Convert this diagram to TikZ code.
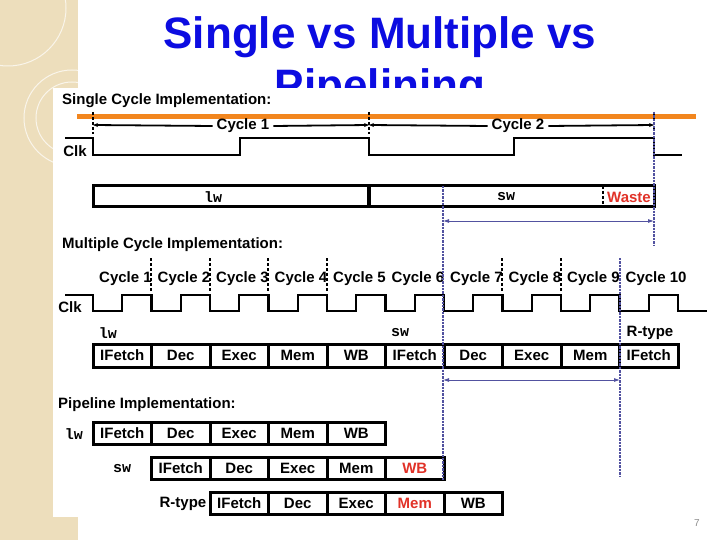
\documentclass[tikz,border=0pt]{standalone}
\usepackage{fontspec}
\setmainfont{Liberation Sans}
\newfontfamily\codefont{Liberation Mono}
\usetikzlibrary{arrows.meta,positioning,calc}
\definecolor{titleblue}{RGB}{12,12,225}
\definecolor{strip}{RGB}{237,222,188}
\definecolor{barorange}{RGB}{242,134,30}
\definecolor{guideblue}{RGB}{82,82,160}
\definecolor{wastered}{RGB}{225,50,40}
\tikzset{
  ttl/.style={anchor=base,font=\fontsize{44}{48}\selectfont\bfseries,text=titleblue},
  sect/.style={anchor=west,inner sep=0pt,font=\fontsize{15}{17}\selectfont\bfseries},
  lbl/.style={inner sep=0pt,font=\fontsize{15}{17}\selectfont\bfseries},
  cyc/.style={anchor=west,inner sep=0pt,font=\fontsize{15}{17}\selectfont\bfseries},
  code/.style={inner sep=0pt,font=\fontsize{15}{17}\selectfont\codefont\bfseries},
  cell/.style={draw,line width=3pt,minimum width=58.5pt,minimum height=22pt,inner sep=0pt,font=\fontsize{15}{17}\selectfont\bfseries},
  clk/.style={line width=2.4pt},
  tickmark/.style={densely dashed,line width=1.8pt},
  cycarr/.style={-{Stealth[length=5pt,width=4pt]},line width=1.8pt},
  guide/.style={guideblue,densely dotted,line width=2.4pt},
  span/.style={guideblue,{Latex[length=6pt,width=4pt]}-{Latex[length=6pt,width=4pt]},line width=0.8pt},
}
\begin{document}
\begin{tikzpicture}[x=1pt,y=-1pt]
\useasboundingbox (0,0) rectangle (720,540);
\fill[white] (0,0) rectangle (720,540);
\fill[strip] (0,0) rectangle (78,540);
\begin{scope}
\clip (0,0) rectangle (78,540);
\draw[white,line width=1pt,opacity=0.7] (8,8) circle (58);
\draw[white,line width=1pt,opacity=0.7] (72,118) circle (48);
\draw[white,line width=1pt,opacity=0.7] (72,118) circle (36);
\end{scope}
\node[ttl] (ttl1) at (380,49) {Single vs Multiple vs};
\node[ttl] (ttl2) at (380,101) {Pipelining};
\fill[white] (53,88) rectangle (720,517);

% single cycle
\node[sect] (single) at (62,101) {Single Cycle Implementation:};
\draw[barorange,line width=5pt] (77,117) -- (696,117);
\foreach \x in {93,369,654} \draw[tickmark] (\x,112) -- (\x,134);
\coordinate (s0) at (93,125);
\coordinate (s1) at (369,125);
\coordinate (s2) at (654,125);
\node[lbl,fill=white,inner xsep=4pt] (cy1) at (243,126) {Cycle 1};
\node[lbl,fill=white,inner xsep=4pt] (cy2) at (518,126) {Cycle 2};
\draw[cycarr] (cy1.west) -- (s0);
\draw[cycarr] (cy1.east) -- (s1);
\draw[cycarr] (cy2.west) -- (s1);
\draw[cycarr] (cy2.east) -- (s2);
\node[lbl] (clk1) at (75,151) {Clk};
\draw[clk] (65,138) -| (93,155) -| (240,138) -| (369,155) -| (514,138) -| (654,155) -- (682,155);
\draw[line width=3pt] (93,186) rectangle (654,207);
\draw[line width=3.5pt] (369,186) -- (369,207);
\draw[tickmark,line width=2.6pt] (603,186) -- (603,207);
\node[code] (lw1) at (213,197) {lw};
\node[code] (sw1) at (506,197) {sw};
\node[lbl,text=wastered] (waste) at (629,197) {Waste};

% multiple cycle
\node[sect] (multi) at (62,245) {Multiple Cycle Implementation:};
\foreach \k in {1,...,10}
  \node[cyc] (mcy\k) at ({93+58.5*(\k-1)+6},279) {Cycle \k};
\foreach \x in {151,210,268,327,502,561} \draw[tickmark] (\x,258) -- (\x,292);
\node[lbl] (clk2) at (70,307) {Clk};
\draw[clk] (65,295) -| (93,311)
  \foreach \k in {0,...,9} { -| ({93+58.5*\k+29.25},295) -| ({93+58.5*(\k+1)},311) }
  -- (707,311);
\node[code] (lw2) at (108,333) {lw};
\node[code] (sw2) at (400,333) {sw};
\node[lbl] (rt2) at (650,333) {R-type};
\foreach \s [count=\k from 0] in {IFetch,Dec,Exec,Mem,WB,IFetch,Dec,Exec,Mem,IFetch}
  \node[cell,minimum height=23pt] (mc\k) at ({122.25+58.5*\k},355.5) {\s};

% pipeline
\node[sect] (pipe) at (58,405) {Pipeline Implementation:};
\node[code] (lw3) at (74,434) {lw};
\foreach \s [count=\k from 0] in {IFetch,Dec,Exec,Mem,WB}
  \node[cell] (pa\k) at ({122.25+58.5*\k},433.5) {\s};
\node[code] (sw3) at (122,469) {sw};
\foreach \s/\c [count=\k from 0] in {IFetch/black,Dec/black,Exec/black,Mem/black,WB/wastered}
  \node[cell,text=\c] (pb\k) at ({180.75+58.5*\k},468.5) {\s};
\node[lbl] (rt3) at (183,504) {R-type};
\foreach \s/\c [count=\k from 0] in {IFetch/black,Dec/black,Exec/black,Mem/wastered,WB/black}
  \node[cell,text=\c] (pc\k) at ({239.25+58.5*\k},503.5) {\s};

% guides
\draw[guide] (443,186) -- (443,480);
\draw[guide] (654,112) -- (654,245);
\draw[guide] (620,258) -- (620,476);
\coordinate (g1) at (443,221);
\coordinate (g2) at (654,221);
\coordinate (g3) at (443,380);
\coordinate (g4) at (620,380);
\draw[span] (g1) -- (g2);
\draw[span] (g3) -- (g4);
\node[text=black!45,font=\fontsize{10}{12}\selectfont] (pgno) at (697,523) {7};
\end{tikzpicture}
\end{document}
